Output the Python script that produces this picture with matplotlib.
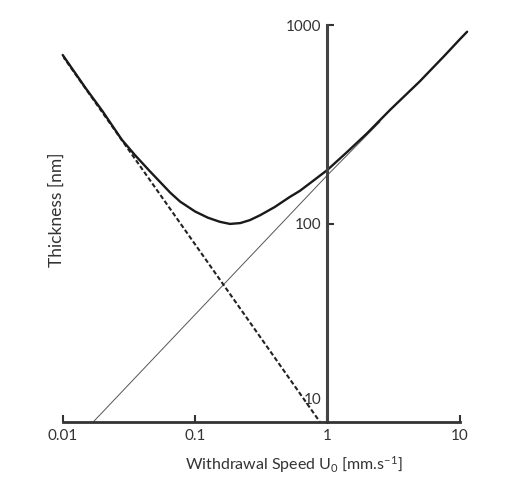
import matplotlib
matplotlib.use("Agg")
import matplotlib.pyplot as plt

plt.rcParams['font.family'] = ['Lato', 'DejaVu Sans']
plt.rcParams['mathtext.fontset'] = 'custom'
plt.rcParams['mathtext.rm'] = 'Lato'
plt.rcParams['mathtext.it'] = 'Lato'

# Total thickness curve
total_u = [0.01, 0.015, 0.02, 0.0279, 0.035, 0.045, 0.0544, 0.065, 0.0771, 0.1, 0.125,
           0.154, 0.184, 0.22, 0.26, 0.31, 0.4, 0.52, 0.62, 0.8, 1.0, 1.4, 2.0, 3.0,
           5.0, 7.76, 10.0, 11.4]
total_h = [706, 478, 368, 265, 222, 185, 162, 143, 129, 115, 107,
           102, 99.5, 100.5, 104, 110, 121, 136, 146, 166, 186, 228, 285, 375,
           520, 705, 845, 925]

# Evaporation regime (dashed)
evap_u = [0.01, 0.88]
evap_h = [698, 10]

# Draining regime (thin)
drain_u = [0.017, 1.0, 2.5]
drain_h = [10, 175, 325]

xticks = [0.01, 0.1, 1, 10]
xticklabels = ['0.01', '0.1', '1', '10']
yticks = [100, 1000]
yticklabels = ['100', '1000']

fig = plt.figure(figsize=(5.1, 4.9), dpi=100)
ax = fig.add_axes([62.7/510, 1-422/490, (459.6-62.7)/510, (422-25)/490])
ax.set_xscale('log')
ax.set_yscale('log')
ax.set_xlim(0.01, 10)
ax.set_ylim(10, 1000)

ax.plot(drain_u, drain_h, color='#555555', lw=0.7)
ax.plot(evap_u, evap_h, color='#222222', lw=1.5, ls=(0, (2.2, 1.2)))
ax.plot(total_u, total_h, color='#1a1a1a', lw=1.7, clip_on=False,
        solid_capstyle='round', solid_joinstyle='round')

for s in ['top', 'right']:
    ax.spines[s].set_visible(False)
ax.spines['left'].set_position(('data', 1))
ax.spines['left'].set_color('#444444')
ax.spines['left'].set_linewidth(2.2)
ax.spines['bottom'].set_color('#333333')
ax.spines['bottom'].set_linewidth(2.0)

ax.set_xticks(xticks)
ax.set_xticklabels(xticklabels)
ax.set_yticks(yticks)
ax.set_yticklabels(yticklabels)
ax.minorticks_off()
ax.tick_params(axis='x', direction='in', length=5, width=1.5, color='#333333',
               labelsize=11, labelcolor='#333333', pad=5)
ax.tick_params(axis='y', direction='in', length=5, width=1.5, color='#333333',
               labelsize=11, labelcolor='#333333', pad=4)
ax.annotate('10', xy=(1, 10), xytext=(-4, 16), textcoords='offset points',
            ha='right', va='center', fontsize=11, color='#333333')

fig.text(294/510, 1-465/490, 'Withdrawal Speed U$_0$ [mm.s$^{-1}$]', ha='center', va='center',
         fontsize=11.5, color='#333333')
fig.text(57/510, 1-210/490, 'Thickness [nm]', ha='center', va='center', rotation=90,
         fontsize=12.5, color='#333333')

fig.savefig('out.png', dpi=100)
